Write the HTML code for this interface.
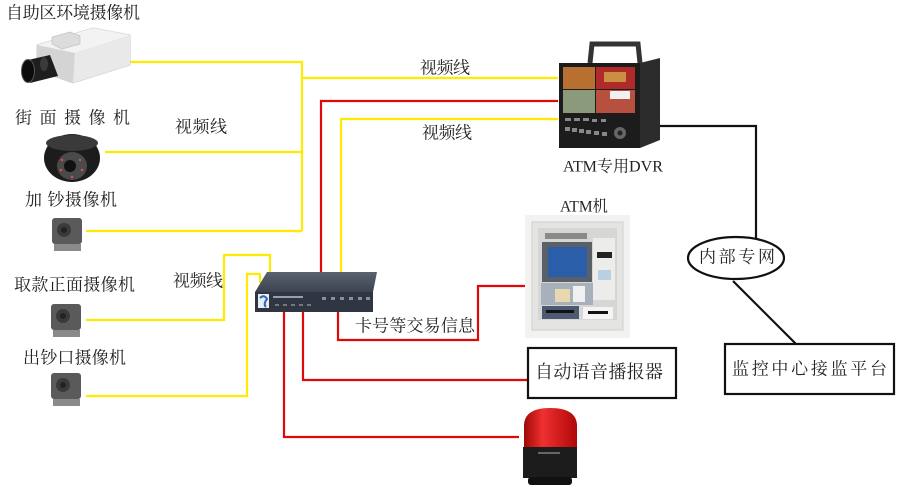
<!DOCTYPE html>
<html><head><meta charset="utf-8"><style>
html,body{margin:0;padding:0;background:#fff;}
svg{display:block;}
text{font-family:"Liberation Serif","Noto Serif CJK SC","Noto Sans CJK SC",serif;fill:#222;dominant-baseline:central;}
</style></head><body>
<svg width="900" height="493" viewBox="0 0 900 493" xmlns="http://www.w3.org/2000/svg">
<defs>
<linearGradient id="lampg" x1="0" x2="1" y1="0" y2="0"><stop offset="0" stop-color="#a00808"/><stop offset="0.35" stop-color="#f03030"/><stop offset="1" stop-color="#b00808"/></linearGradient>
<linearGradient id="swtop" x1="0" x2="0" y1="0" y2="1"><stop offset="0" stop-color="#5a6270"/><stop offset="1" stop-color="#3c4350"/></linearGradient>
</defs>
<rect width="900" height="493" fill="#fff"/>

<!-- yellow lines -->
<g stroke="#ffea00" stroke-width="2.2" fill="none">
<polyline points="128,62 302,62 302,231"/>
<line x1="105" y1="152" x2="302" y2="152"/>
<line x1="86" y1="231" x2="302" y2="231"/>
<line x1="302" y1="78" x2="558" y2="78"/>
<polyline points="558,119 341,119 341,275"/>
<polyline points="270,274 270,255 224,255 224,320 86,320"/>
<polyline points="260,283 260,274 247,274 247,396 86,396"/>
</g>
<!-- red lines -->
<g stroke="#e00808" stroke-width="2.2" fill="none">
<polyline points="558,101 321,101 321,275"/>
<polyline points="338,312 338,340 478,340 478,286 525,286"/>
<polyline points="303,312 303,380 527,380"/>
<polyline points="284,312 284,437 519,437"/>
</g>
<!-- black lines -->
<g stroke="#111" stroke-width="2.2" fill="none">
<polyline points="653,126 756,126 756,238"/>
<line x1="733" y1="281" x2="796" y2="344"/>
<ellipse cx="736" cy="258" rx="48" ry="21" fill="#fff"/>
<rect x="725" y="344" width="169" height="50" fill="#fff"/>
<rect x="528" y="348" width="148" height="50" fill="#fff"/>
</g>

<!-- camera 1 -->
<polygon points="37,45 93,28 130,35 130,65 73,83 37,70" fill="#e4e4e4" stroke="#c8c8c8" stroke-width="1"/>
<polygon points="37,45 93,28 130,35 75,53" fill="#f3f3f3"/>
<polygon points="37,45 75,53 73,83 37,70" fill="#d4d4d4"/>
<polygon points="75,53 130,35 130,65 73,83" fill="#e9e9e9"/>
<polygon points="52,37 70,32 80,36 80,44 62,49 52,44" fill="#dcdcdc" stroke="#bbb" stroke-width="0.6"/>
<polygon points="28,60 50,55 58,76 30,83" fill="#1e1e1e"/>
<ellipse cx="28" cy="71" rx="6.5" ry="11.5" fill="#0c0c0c" stroke="#555" stroke-width="1"/>
<ellipse cx="44" cy="64" rx="4" ry="7" fill="#3a3a3a"/>

<!-- dome camera -->
<ellipse cx="72" cy="158" rx="28" ry="24" fill="#1c1c1c"/>
<ellipse cx="72" cy="143" rx="26" ry="8" fill="#3a3a3a"/>
<ellipse cx="72" cy="166" rx="15" ry="14" fill="#4a4a4a"/>
<circle cx="70" cy="166" r="6" fill="#111"/>
<g fill="#e05050"><circle cx="62" cy="160" r="1.2"/><circle cx="80" cy="160" r="1.2"/><circle cx="61" cy="170" r="1.2"/><circle cx="82" cy="170" r="1.2"/><circle cx="72" cy="177" r="1.2"/></g>

<!-- small cameras -->
<g id="sc">
<rect x="52" y="218" width="30" height="26" rx="3" fill="#5a5a5a"/>
<rect x="54" y="244" width="27" height="7" fill="#8a8a8a"/>
<circle cx="64" cy="230" r="7" fill="#3a3a3a"/>
<circle cx="64" cy="230" r="3" fill="#222"/>
</g>
<use href="#sc" x="-1" y="86"/>
<use href="#sc" x="-1" y="155"/>

<!-- switch box -->
<polygon points="267,272 377,272 373,292 255,292" fill="url(#swtop)"/>
<rect x="255" y="292" width="118" height="20" fill="#2f3642"/>
<rect x="258" y="294" width="11" height="14" fill="#e8eef6"/>
<path d="M260,298 Q264,294 267,299 Q263,304 266,307" stroke="#2a6ab8" stroke-width="2" fill="none"/>
<rect x="273" y="296" width="30" height="2" fill="#9aa0aa"/>
<g fill="#8a909a"><rect x="322" y="297" width="4" height="3"/><rect x="331" y="297" width="4" height="3"/><rect x="340" y="297" width="4" height="3"/><rect x="349" y="297" width="4" height="3"/><rect x="358" y="297" width="4" height="3"/><rect x="366" y="297" width="4" height="3"/></g>
<g fill="#777"><rect x="275" y="304" width="4" height="2"/><rect x="283" y="304" width="4" height="2"/><rect x="291" y="304" width="4" height="2"/><rect x="299" y="304" width="4" height="2"/><rect x="307" y="304" width="4" height="2"/></g>

<!-- DVR -->
<path d="M590,63 L592,44 L638,44 L640,63" stroke="#333" stroke-width="5" fill="none"/>
<polygon points="640,63 660,58 660,140 640,148" fill="#2c2c2c"/>
<rect x="559" y="63" width="81" height="85" fill="#1c1c1c"/>
<rect x="563" y="67" width="32" height="22" fill="#b87030"/>
<rect x="596" y="67" width="39" height="22" fill="#b02a2a"/>
<rect x="604" y="72" width="22" height="10" fill="#c89040"/>
<rect x="563" y="90" width="32" height="23" fill="#8a9a7a"/>
<rect x="596" y="90" width="39" height="23" fill="#b85040"/>
<rect x="610" y="91" width="20" height="8" fill="#f0f0f0"/>
<g fill="#888"><rect x="565" y="118" width="6" height="3"/><rect x="574" y="118" width="6" height="3"/><rect x="583" y="118" width="6" height="3"/><rect x="592" y="119" width="5" height="3"/><rect x="601" y="119" width="5" height="3"/>
<rect x="565" y="127" width="5" height="4"/><rect x="572" y="128" width="5" height="4"/><rect x="579" y="129" width="5" height="4"/><rect x="586" y="130" width="5" height="4"/><rect x="594" y="131" width="5" height="4"/><rect x="602" y="132" width="5" height="4"/></g>
<circle cx="620" cy="133" r="6" fill="#666"/><circle cx="620" cy="133" r="2.5" fill="#222"/>

<!-- ATM -->
<rect x="525" y="215" width="105" height="123" fill="#f2f2f0"/>
<rect x="532" y="222" width="91" height="108" fill="#e4e4e2" stroke="#d0d0d0"/>
<rect x="538" y="228" width="79" height="92" fill="#d6d6d4"/>
<rect x="545" y="233" width="42" height="6" fill="#8a8a8a"/>
<rect x="542" y="242" width="50" height="40" fill="#5a6068"/>
<rect x="548" y="247" width="39" height="30" fill="#2a5ea8"/>
<rect x="593" y="238" width="22" height="62" fill="#ececea"/>
<rect x="597" y="252" width="15" height="6" fill="#222"/>
<rect x="598" y="270" width="13" height="10" fill="#b8d0e0"/>
<rect x="541" y="283" width="52" height="22" fill="#a8b0bc"/>
<rect x="555" y="289" width="15" height="13" fill="#e8d8b0"/>
<rect x="573" y="286" width="12" height="16" fill="#f0f0f0"/>
<rect x="542" y="306" width="37" height="13" fill="#4a5a70"/>
<rect x="546" y="310" width="28" height="3" fill="#111"/>
<rect x="583" y="307" width="30" height="12" fill="#f4f4f4"/>
<rect x="588" y="311" width="20" height="3" fill="#111"/>

<!-- lamp -->
<path d="M524,447 L524,426 Q524,408 550,408 Q577,408 577,426 L577,447 Z" fill="url(#lampg)"/>
<rect x="523" y="447" width="54" height="31" fill="#1c1c1c"/>
<rect x="528" y="477" width="44" height="8" rx="3" fill="#111"/>
<rect x="538" y="452" width="22" height="2" fill="#666"/>

<!-- labels -->
<text x="6" y="13" font-size="17" textLength="134" lengthAdjust="spacing">自助区环境摄像机</text>
<text x="15" y="118" font-size="17" textLength="115" lengthAdjust="spacing">街 面 摄 像 机</text>
<text x="25" y="200" font-size="17" textLength="92" lengthAdjust="spacing">加 钞摄像机</text>
<text x="14" y="285" font-size="17" textLength="121" lengthAdjust="spacing">取款正面摄像机</text>
<text x="23" y="358" font-size="17" textLength="103" lengthAdjust="spacing">出钞口摄像机</text>
<text x="175" y="127" font-size="17" textLength="52" lengthAdjust="spacing">视频线</text>
<text x="173" y="281" font-size="17" textLength="50" lengthAdjust="spacing">视频线</text>
<text x="420" y="68" font-size="17" textLength="50" lengthAdjust="spacing">视频线</text>
<text x="422" y="133" font-size="17" textLength="50" lengthAdjust="spacing">视频线</text>
<text x="563" y="167" font-size="16" textLength="100" lengthAdjust="spacingAndGlyphs">ATM专用DVR</text>
<text x="560" y="207" font-size="16" textLength="48" lengthAdjust="spacingAndGlyphs">ATM机</text>
<text x="355" y="326" font-size="17" textLength="120" lengthAdjust="spacing">卡号等交易信息</text>
<text x="535" y="372" font-size="18" textLength="128" lengthAdjust="spacing">自动语音播报器</text>
<text x="699" y="257" font-size="17" textLength="76" lengthAdjust="spacing">内部专网</text>
<text x="732" y="369" font-size="17" textLength="155" lengthAdjust="spacing">监控中心接监平台</text>
</svg>
</body></html>
